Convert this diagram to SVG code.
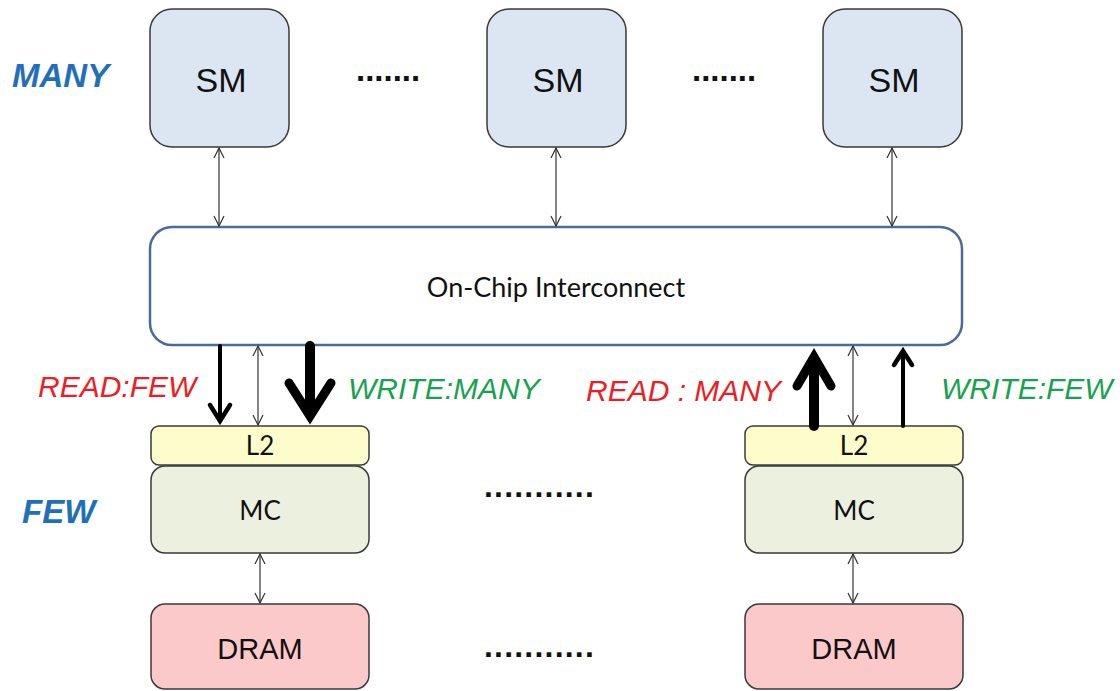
<svg xmlns="http://www.w3.org/2000/svg" width="1120" height="691" viewBox="0 0 1120 691">
  <style>
    .sm { fill: #dce6f2; stroke: #3a3a3a; stroke-width: 1.5; }
    .ic { fill: #ffffff; stroke: #4a6b9a; stroke-width: 2.5; }
    .l2 { fill: #fdfdcc; stroke: #3a3a3a; stroke-width: 1.5; }
    .mc { fill: #ebf0df; stroke: #3a3a3a; stroke-width: 1.5; }
    .dram { fill: #fcc9ca; stroke: #3a3a3a; stroke-width: 1.5; }
    .arial { font-family: "Liberation Sans", Arial, sans-serif; fill: #111; }
    .cal { font-family: Lato, "Open Sans", sans-serif; fill: #111; }
    .side { font-family: "Liberation Sans", Arial, sans-serif; font-style: italic; font-size: 30px; }
    .blue { fill: #1f70b8; font-size: 33px; font-weight: bold; }
    .red { fill: #ee1c24; }
    .green { fill: #17a24f; }
    .dots { font-family: "Liberation Sans", Arial, sans-serif; fill: #111; }
    .thin { stroke: #333; stroke-width: 1.2; fill: none; marker-start: url(#tip); marker-end: url(#tip); }
    .bold { stroke: #000; fill: none; stroke-linejoin: miter; stroke-linecap: round; }
  </style>
  <defs>
    <marker id="tip" viewBox="0 0 12 12" refX="11" refY="6" markerWidth="12" markerHeight="12" markerUnits="userSpaceOnUse" orient="auto-start-reverse">
      <path d="M1,1 L11,6 L1,11" fill="none" stroke="#333" stroke-width="1.2"/>
    </marker>
  </defs>

  <!-- side labels -->
  <text class="side blue" x="12" y="87">MANY</text>
  <text class="side blue" x="22" y="523">FEW</text>

  <!-- streaming multiprocessors -->
  <g id="sm1">
    <rect class="sm" x="150" y="9" width="139" height="138" rx="22"/>
    <text class="arial" x="221" y="92" font-size="34" text-anchor="middle">SM</text>
  </g>
  <g id="sm2">
    <rect class="sm" x="487" y="9" width="139" height="138" rx="22"/>
    <text class="arial" x="558" y="92" font-size="34" text-anchor="middle">SM</text>
  </g>
  <g id="sm3">
    <rect class="sm" x="823" y="9" width="139" height="138" rx="22"/>
    <text class="arial" x="894" y="92" font-size="34" text-anchor="middle">SM</text>
  </g>
  <text class="dots" x="356" y="81" font-size="33" font-weight="bold">.......</text>
  <text class="dots" x="692" y="81" font-size="33" font-weight="bold">.......</text>

  <!-- interconnect -->
  <g id="interconnect">
    <rect class="ic" x="150" y="227" width="812" height="118" rx="22"/>
    <text class="cal" x="556" y="297" font-size="27" text-anchor="middle">On-Chip Interconnect</text>
  </g>

  <!-- memory partition 1 -->
  <g id="l2-1">
    <rect class="l2" x="151" y="426" width="218" height="39" rx="8"/>
    <text class="cal" x="260" y="455" font-size="26" text-anchor="middle">L2</text>
  </g>
  <g id="mc-1">
    <rect class="mc" x="151" y="466" width="218" height="87" rx="14"/>
    <text class="cal" x="260" y="520" font-size="26" text-anchor="middle">MC</text>
  </g>
  <g id="dram-1">
    <rect class="dram" x="151" y="604" width="218" height="85" rx="14"/>
    <text class="arial" x="260" y="659" font-size="29" text-anchor="middle">DRAM</text>
  </g>

  <!-- memory partition 2 -->
  <g id="l2-2">
    <rect class="l2" x="745" y="426" width="218" height="39" rx="8"/>
    <text class="cal" x="854" y="455" font-size="26" text-anchor="middle">L2</text>
  </g>
  <g id="mc-2">
    <rect class="mc" x="745" y="466" width="218" height="87" rx="14"/>
    <text class="cal" x="854" y="520" font-size="26" text-anchor="middle">MC</text>
  </g>
  <g id="dram-2">
    <rect class="dram" x="745" y="604" width="218" height="85" rx="14"/>
    <text class="arial" x="854" y="659" font-size="29" text-anchor="middle">DRAM</text>
  </g>

  <text class="dots" x="484" y="497" font-size="32" font-weight="bold" letter-spacing="1.2">...........</text>
  <text class="dots" x="484" y="657" font-size="32" font-weight="bold" letter-spacing="1.2">...........</text>

  <!-- traffic labels -->
  <text class="side red" x="38" y="397">READ:FEW</text>
  <text class="side green" x="348" y="399">WRITE:MANY</text>
  <text class="side red" x="586" y="401">READ : MANY</text>
  <text class="side green" x="941" y="399">WRITE:FEW</text>

  <!-- connectors -->
  <g id="connectors">
    <line class="thin" x1="219" y1="148" x2="219" y2="226"/>
    <line class="thin" x1="556" y1="148" x2="556" y2="226"/>
    <line class="thin" x1="892" y1="148" x2="892" y2="226"/>

    <line class="thin" x1="258" y1="346" x2="258" y2="425"/>
    <line class="thin" x1="853" y1="346" x2="853" y2="425"/>

    <line class="thin" x1="260" y1="554" x2="260" y2="603"/>
    <line class="thin" x1="853" y1="554" x2="853" y2="603"/>

    <!-- read, few: interconnect to L2 -->
    <line class="bold" x1="220" y1="346" x2="220" y2="418" stroke-width="4" stroke-linecap="butt"/>
    <polyline class="bold" points="210,405 220,421 230,405" stroke-width="4.5"/>
    <!-- write, many: interconnect to L2 -->
    <line class="bold" x1="310" y1="346" x2="310" y2="412" stroke-width="10" stroke-linecap="butt"/>
    <polyline class="bold" points="289,383 310,416 331,383" stroke-width="9"/>
    <!-- read, many: L2 to interconnect -->
    <line class="bold" x1="814" y1="426" x2="814" y2="360" stroke-width="10" stroke-linecap="butt"/>
    <polyline class="bold" points="797,386 814,357 831,386" stroke-width="9"/>
    <!-- write, few: L2 to interconnect -->
    <line class="bold" x1="903" y1="426" x2="903" y2="354" stroke-width="4" stroke-linecap="butt"/>
    <polyline class="bold" points="894,365 903,351 912,365" stroke-width="4.5"/>
  </g>
</svg>
